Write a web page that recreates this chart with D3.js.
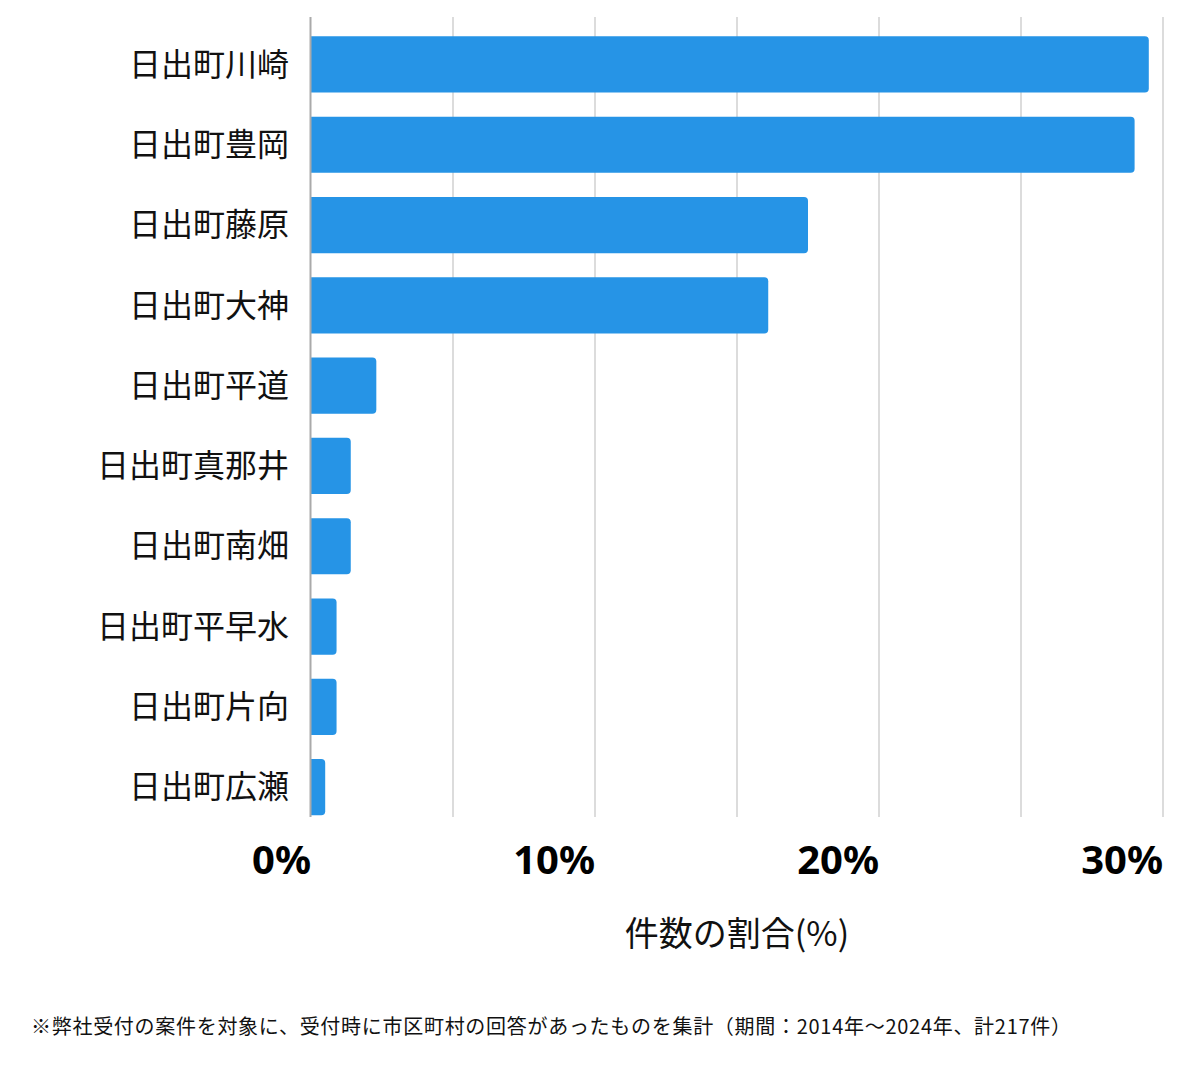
<!DOCTYPE html>
<html><head><meta charset="utf-8">
<script src="https://cdn.jsdelivr.net/npm/d3@7"></script>
<style>body{margin:0;background:#fff;} svg{display:block;}</style>
</head><body>
<svg id="c" width="1200" height="1069"></svg>
<script>
const categories = ["日出町川崎","日出町豊岡","日出町藤原","日出町大神","日出町平道","日出町真那井","日出町南畑","日出町平早水","日出町片向","日出町広瀬"];
const values = [29.5, 29.0, 17.5, 16.1, 2.3, 1.4, 1.4, 0.9, 0.9, 0.5];
const tickValues = [0, 10, 20, 30];
const tickLabels = ["0%","10%","20%","30%"];
const gridValues = [0, 5, 10, 15, 20, 25, 30];
const axisTitle = "件数の割合(%)";
const footnote = "※弊社受付の案件を対象に、受付時に市区町村の回答があったものを集計（期間：2014年～2024年、計217件）";

const svg = d3.select("#c");
const x = d3.scaleLinear().domain([0, 30]).range([311, 1163]);
const y = d3.scaleBand().domain(categories).range([24.3, 827.3]).paddingInner(0.3).paddingOuter(0.15);
const cjk = "'Noto Sans CJK JP','Noto Sans',sans-serif";

// grid
svg.append("g").selectAll("line").data(gridValues.filter(d=>d>0)).join("line")
  .attr("x1", d=>x(d)).attr("x2", d=>x(d)).attr("y1", 17).attr("y2", 817)
  .attr("stroke", "#dcdcdc").attr("stroke-width", 2);

// bars with rounded right corners
const r = 4;
svg.append("g").selectAll("path").data(values).join("path")
  .attr("d", (d,i)=>{
    const x0 = x(0), x1 = x(d), y0 = y(categories[i]), h = y.bandwidth();
    const rr = Math.min(r, (x1-x0)/2);
    return `M${x0},${y0}H${x1-rr}Q${x1},${y0} ${x1},${y0+rr}V${y0+h-rr}Q${x1},${y0+h} ${x1-rr},${y0+h}H${x0}Z`;
  })
  .attr("fill", "#2694e6");

// axis line
svg.append("line").attr("x1", 310.5).attr("x2", 310.5).attr("y1", 17).attr("y2", 817)
  .attr("stroke", "#aaaaaa").attr("stroke-width", 2);

// category labels
svg.append("g").selectAll("text").data(categories).join("text")
  .attr("x", 289).attr("y", d=>y(d)+y.bandwidth()/2)
  .attr("dy", "0.35em").attr("text-anchor", "end")
  .attr("font-family", cjk).attr("font-size", 32).attr("fill", "#111")
  .text(d=>d);

// tick labels
svg.append("g").selectAll("text").data(tickValues).join("text")
  .attr("x", d=>x(d)).attr("y", 874).attr("text-anchor", "end")
  .attr("font-family", "'Noto Sans','Open Sans',sans-serif").attr("font-weight", "bold")
  .attr("font-size", 40).attr("fill", "#000")
  .text((d,i)=>tickLabels[i]);

// axis title
svg.append("text").attr("x", (x(0)+x(30))/2).attr("y", 946).attr("text-anchor", "middle")
  .attr("font-family", cjk).attr("font-size", 34).attr("fill", "#111").text(axisTitle);

// footnote
svg.append("text").attr("x", 31).attr("y", 1034)
  .attr("font-family", cjk).attr("font-size", 20).attr("fill", "#111")
  .attr("textLength", 1040).attr("lengthAdjust", "spacing").text(footnote);
</script>
</body></html>
